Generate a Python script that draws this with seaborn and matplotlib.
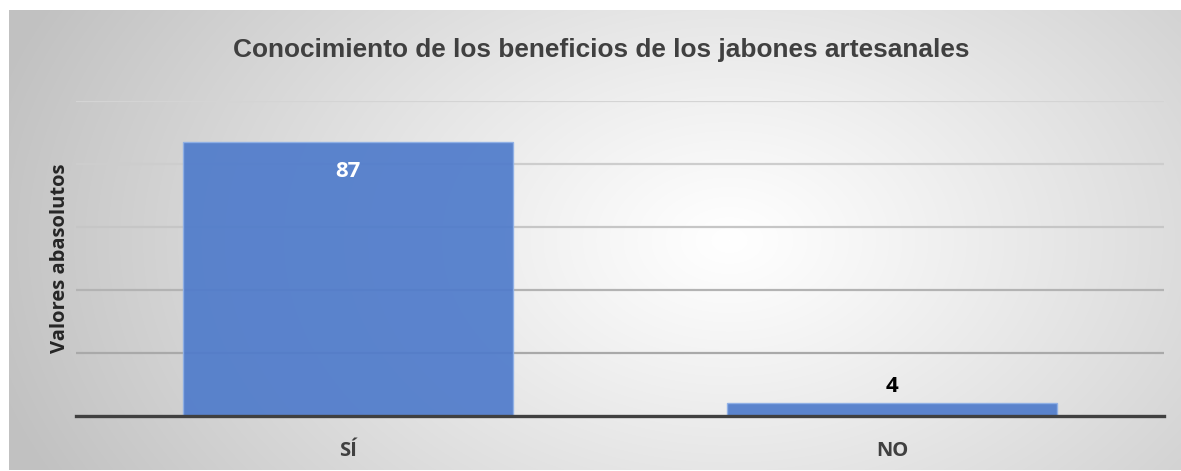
import numpy as np
import pandas as pd
import matplotlib
matplotlib.use("Agg")
import matplotlib.pyplot as plt
import seaborn as sns

categories = ["SÍ", "NO"]
values = [87, 4]
title = "Conocimiento de los beneficios de los jabones artesanales"
ylabel = "Valores abasolutos"

sns.set_theme(style="white")
plt.rcParams['font.family'] = ['Open Sans', 'DejaVu Sans']

W, H = 1181, 471
fig = plt.figure(figsize=(W / 100, H / 100), dpi=100, facecolor="white")

# background gradient panel
bg = fig.add_axes([9 / W, 1 / H, 1172 / W, 460 / H])
yy, xx = np.mgrid[0:460, 0:1172]
cx, cy = 720, 230
r = np.sqrt(((xx - cx) / 760.0) ** 2 + ((yy - cy) / 520.0) ** 2)
r = np.clip(r, 0, 1)
shade = 1.0 - 0.24 * r ** 1.1
img = np.dstack([shade, shade, shade])
bg.imshow(img, aspect="auto", interpolation="bilinear")
bg.set_axis_off()

ax = fig.add_axes([76 / W, (H - 416) / H, (1164 - 76) / W, (416 - 101) / H])
ax.set_facecolor("none")
df = pd.DataFrame({"cat": categories, "val": values})
sns.barplot(data=df, x="cat", y="val", ax=ax, width=0.605, color="#4f7bcb",
            alpha=0.92, edgecolor="#8fb0e6", linewidth=1.0, saturation=1, zorder=2)

ax.set_ylim(0, 100)
ax.set_xlim(-0.5, 1.5)
ax.set_yticks([20, 40, 60, 80, 100])
ax.yaxis.grid(True, linewidth=1.6, zorder=0)
grid_colors = ["#a9a9a9", "#b3b3b3", "#c6c6c6", "#cdcdcd", "#d4d4d4"]
for gl, c in zip(ax.yaxis.get_gridlines(), grid_colors):
    gl.set_color(c)
ax.set_axisbelow(True)
ax.tick_params(axis="y", length=0, labelleft=False)
ax.tick_params(axis="x", length=0, pad=18)
for s in ["top", "right", "left"]:
    ax.spines[s].set_visible(False)
ax.spines["bottom"].set_color("#404040")
ax.spines["bottom"].set_linewidth(2.4)
ax.spines["bottom"].set_zorder(3)

for lbl in ax.get_xticklabels():
    lbl.set_fontsize(14.5)
    lbl.set_fontweight("bold")
    lbl.set_color("#404040")

ax.set_xlabel("")
ax.set_ylabel(ylabel, fontsize=14.5, fontweight="bold", color="#262626", labelpad=4)

# data labels
for i, v in enumerate(values):
    if v > 20:
        ax.text(i, v - 9.5, str(v), ha="center", va="center", fontsize=16,
                fontweight="bold", color="white", zorder=4)
    else:
        ax.text(i, v + 5.5, str(v), ha="center", va="center", fontsize=16,
                fontweight="bold", color="black", zorder=4)

fig.text(601 / W, 1 - 50 / H, title, ha="center", va="center", fontsize=18.9,
         fontweight="bold", color="#404040",
         family=["Liberation Sans", "DejaVu Sans"])

fig.savefig("out.png", dpi=100, facecolor="white")
